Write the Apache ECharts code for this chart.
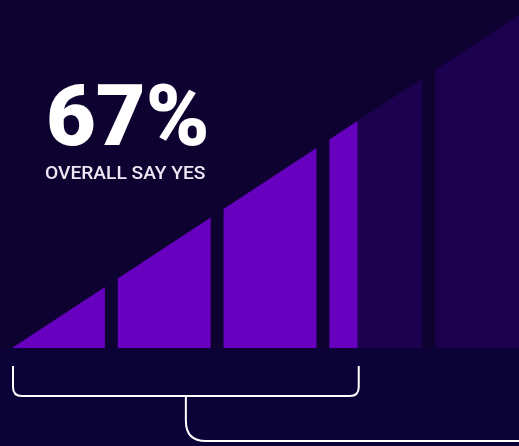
<!DOCTYPE html>
<html>
<head>
<meta charset="utf-8">
<style>
  html, body { margin: 0; padding: 0; background: #0d0230; }
  #chart { width: 519px; height: 446px; }
</style>
<script src="https://cdn.jsdelivr.net/npm/echarts@6/dist/echarts.min.js"></script>
</head>
<body>
<div id="chart"></div>
<script>
// Share of respondents answering yes (percent of the full ramp)
const yesShare = 67;
const headline = '67%';
const caption = 'OVERALL SAY YES';

// Ramp segments along the 0-100 scale; each segment's top follows the ramp height = x
const segmentStart = [0, 20.5, 41, 61.5, 82];
const segmentEnd = [18, 38.5, 59, 79.5, 100];

// The last segment runs past the right edge of the canvas
const visibleMax = 98.25;

const yesColor = '#6800c0';
const restColor = '#1c014f';
const bgTop = '#0d0230';
const bgBottom = '#0b0337';

const chart = echarts.init(document.getElementById('chart'), null, { renderer: 'canvas' });

function polygonFor(api, a, b) {
  return {
    type: 'polygon',
    shape: {
      points: [api.coord([a, 0]), api.coord([a, a]), api.coord([b, b]), api.coord([b, 0])]
    }
  };
}

function renderSegment(params, api) {
  const a = api.value(0);
  const b = api.value(1);
  const children = [];
  const split = Math.min(Math.max(yesShare, a), b);
  if (split > a) {
    const p = polygonFor(api, a, split);
    p.style = { fill: yesColor };
    children.push(p);
  }
  if (b > split) {
    const p = polygonFor(api, split, b);
    p.style = { fill: restColor };
    children.push(p);
  }
  return { type: 'group', children: children };
}

function renderBracket(params, api) {
  const left = api.coord([api.value(0), 0]);
  const right = api.coord([api.value(1), 0]);
  const base = left[1];
  const xL = left[0] + 1;
  const xR = right[0] + 1;
  const yT = base + 18;
  const yB = base + 48;
  const r = 9;
  const xM = (xL + xR) / 2;
  const y2 = base + 93;
  const r2 = 20;
  const W = api.getWidth() + 5;
  const d1 = 'M' + xL + ' ' + yT + ' L' + xL + ' ' + (yB - r) +
    ' Q' + xL + ' ' + yB + ' ' + (xL + r) + ' ' + yB +
    ' L' + (xR - r) + ' ' + yB +
    ' Q' + xR + ' ' + yB + ' ' + xR + ' ' + (yB - r) +
    ' L' + xR + ' ' + yT;
  const d2 = 'M' + xM + ' ' + yB + ' L' + xM + ' ' + (y2 - r2) +
    ' Q' + xM + ' ' + y2 + ' ' + (xM + r2) + ' ' + y2 +
    ' L' + W + ' ' + y2;
  const style = { fill: null, stroke: '#ffffff', lineWidth: 2 };
  return {
    type: 'group',
    children: [
      { type: 'path', shape: { pathData: d1 }, style: style },
      { type: 'path', shape: { pathData: d2 }, style: style }
    ]
  };
}

const segments = segmentStart.map((s, i) => [s, segmentEnd[i]]);

chart.setOption({
  backgroundColor: {
    type: 'linear', x: 0, y: 0, x2: 0, y2: 1,
    colorStops: [
      { offset: 0, color: bgTop },
      { offset: 0.78, color: bgTop },
      { offset: 0.7801, color: bgBottom },
      { offset: 1, color: bgBottom }
    ]
  },
  animation: false,
  grid: { left: 12, top: 9, right: 0, height: 339 },
  xAxis: { type: 'value', min: 0, max: visibleMax, show: false },
  yAxis: { type: 'value', min: 0, max: 100, show: false },
  graphic: [
    {
      type: 'text', left: 46, top: 80,
      style: {
        text: headline, fill: '#ffffff',
        font: '900 86px Roboto'
      }
    },
    {
      type: 'text', left: 45, top: 165,
      style: {
        text: caption, fill: '#ece8f4',
        font: '500 19.2px Roboto'
      }
    }
  ],
  series: [
    {
      type: 'custom',
      renderItem: renderSegment,
      clip: false,
      data: segments
    },
    {
      type: 'custom',
      renderItem: renderBracket,
      clip: false,
      data: [[0, yesShare]]
    }
  ]
});
</script>
</body>
</html>
